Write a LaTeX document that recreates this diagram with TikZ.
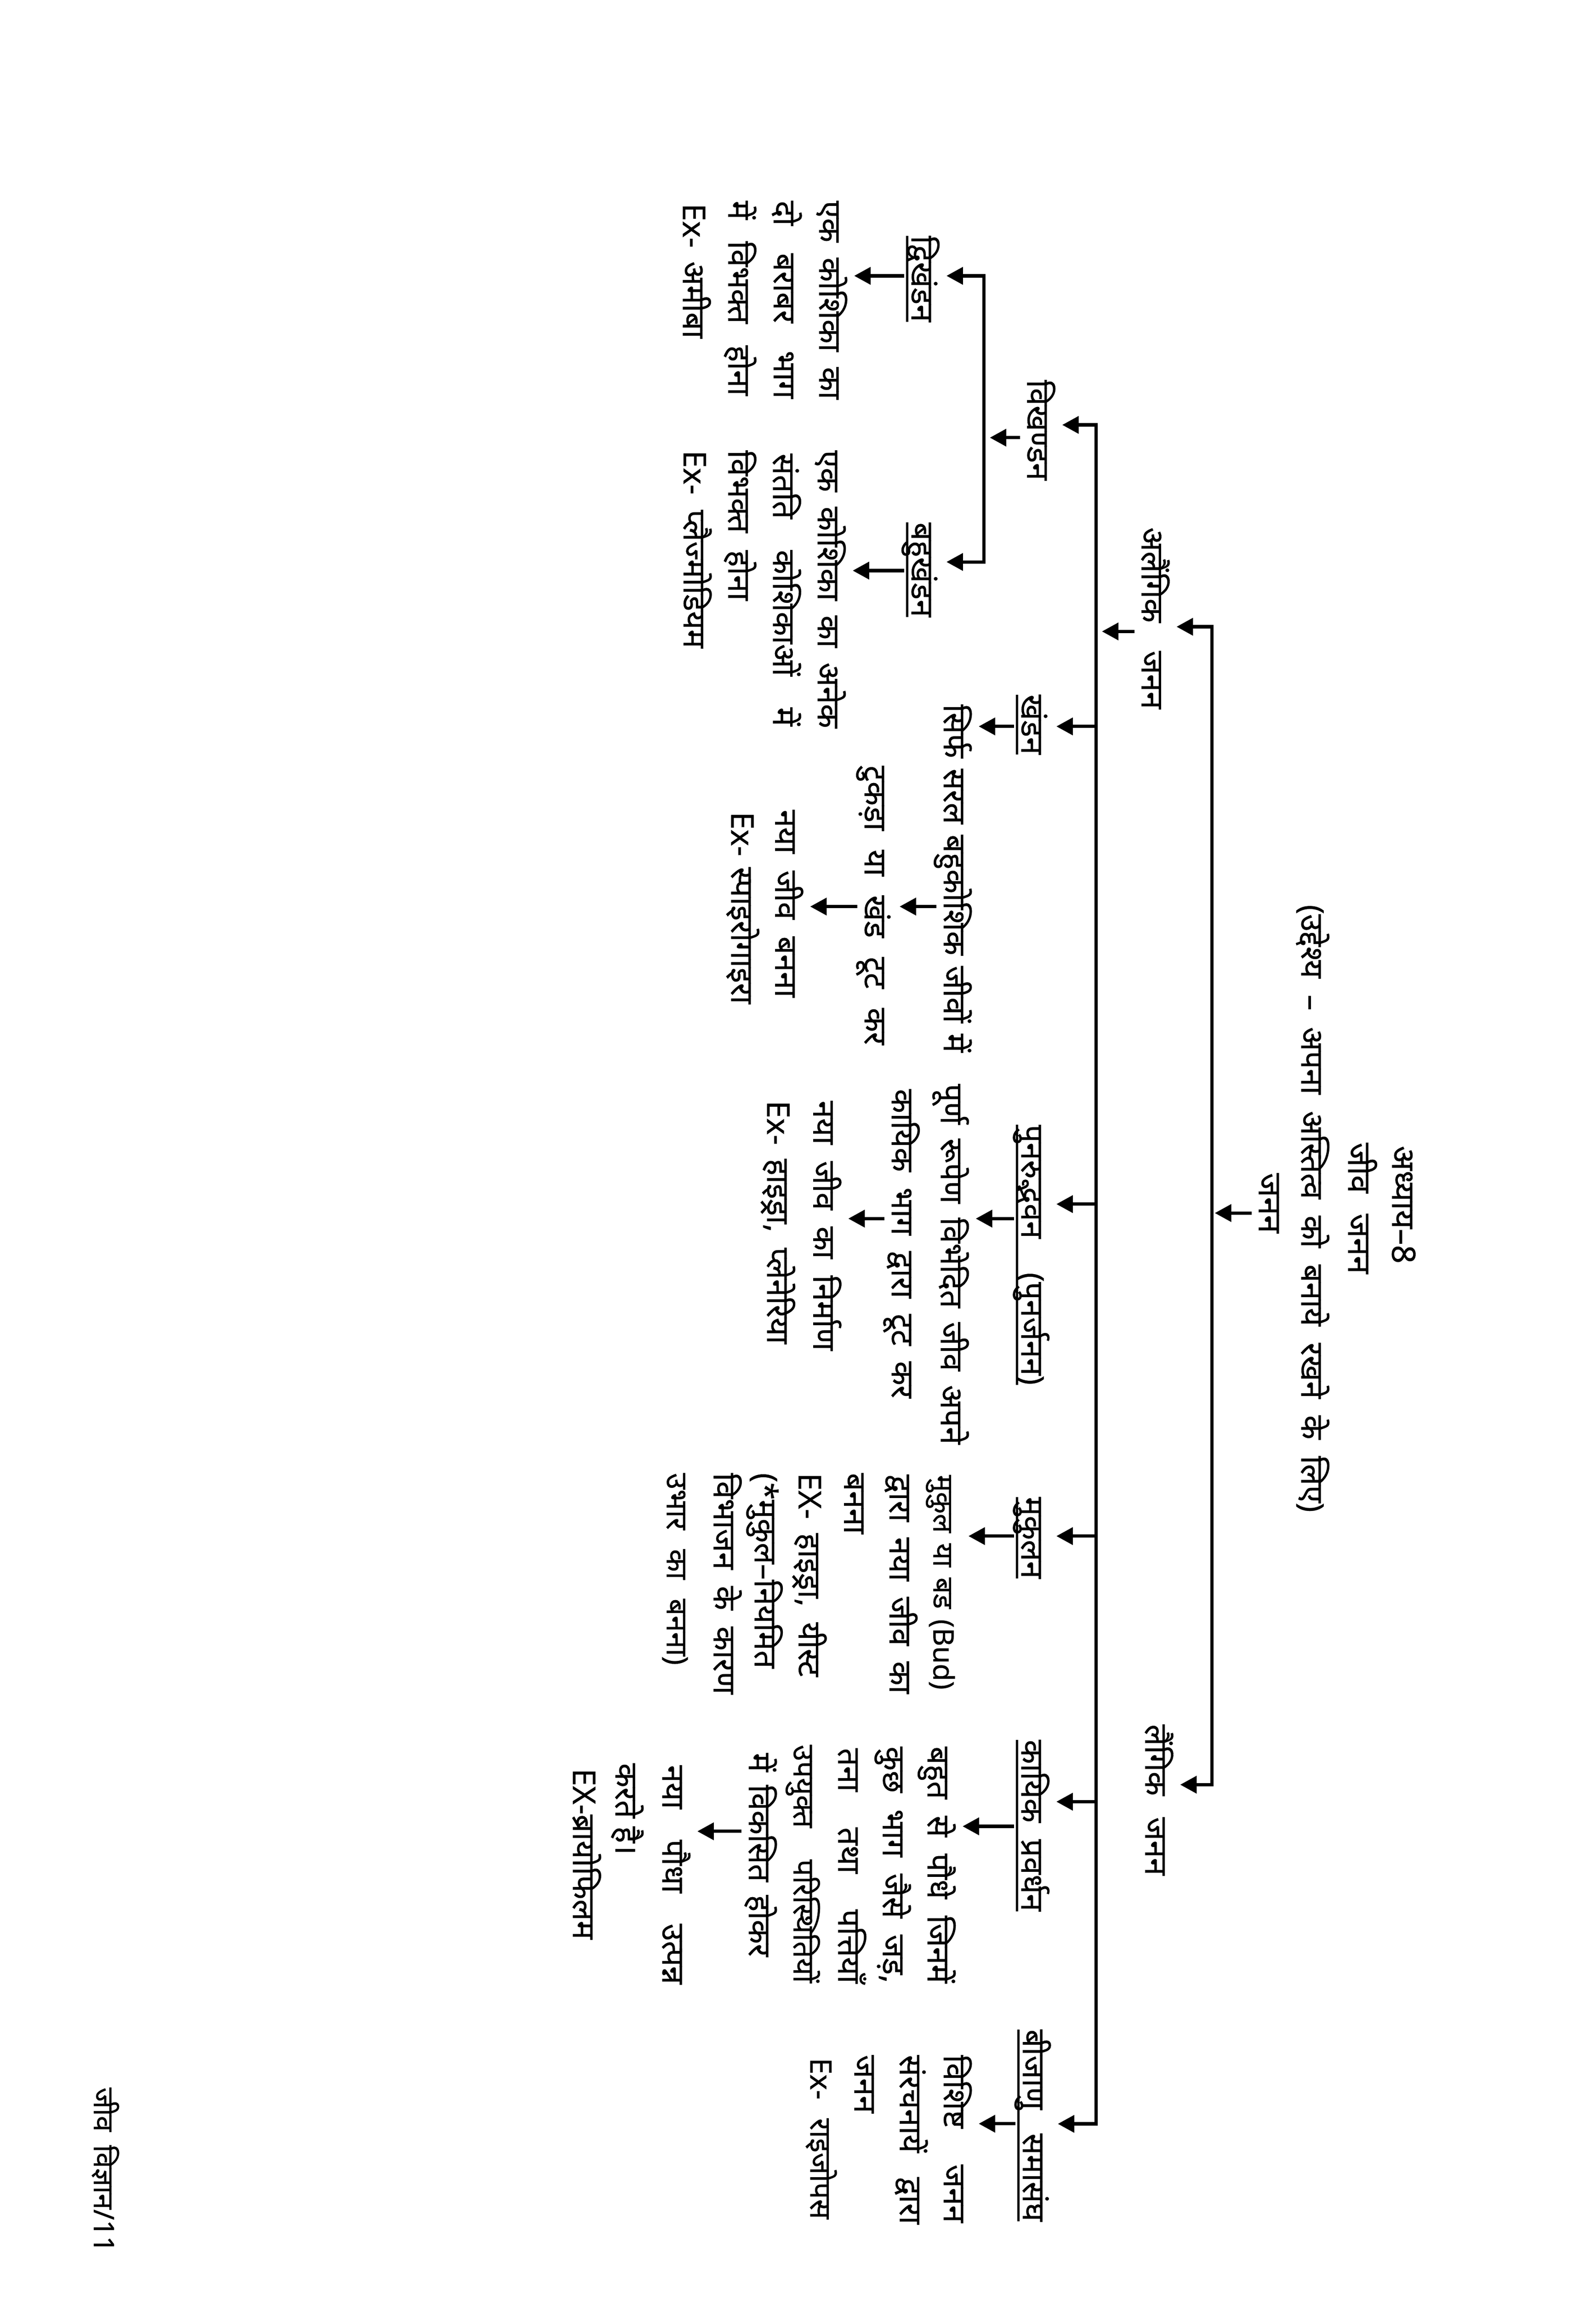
\documentclass[tikz,border=0pt]{standalone}
\usepackage{fontspec}
\setmainfont{Noto Sans}[Script=Devanagari, UprightFeatures={FakeBold=0.5}]
\usetikzlibrary{arrows.meta}
\tikzset{
  txt/.style={rotate=-90, anchor=base west, inner sep=0pt, outer sep=0pt,
    text height=13.6pt, text depth=2.8pt, font=\fontsize{12.2}{15}\selectfont},
  txtsm/.style={txt, font=\fontsize{11.0}{14}\selectfont},
  txtmd/.style={txt, font=\fontsize{11.5}{14}\selectfont},
  ttl/.style={txt, font=\fontsize{12.6}{15}\selectfont\bfseries},
  tline/.style={draw, line width=1.3pt},
  arr/.style={draw, line width=1.3pt, -{Triangle[length=6.4pt,width=6.6pt]}},
  arrs/.style={draw, line width=1.3pt, {Triangle[length=6.4pt,width=6.6pt]}-{Triangle[length=6.4pt,width=6.6pt]}},
  ul/.style={draw, line width=0.8pt}
}
\newcommand\ulnode[1]{\draw[ul] ([xshift=-0.06cm]#1.base west) -- ([xshift=-0.06cm]#1.base east);}
\begin{document}
\begin{tikzpicture}[x=0.02cm,y=-0.02cm]
\fill[white] (0,0) rectangle (1089,1568.5);
\useasboundingbox (0,0) rectangle (1089,1568.5);

% title
\node[ttl] (T1) at (950,781.7) {अध्याय–8};
\node[ttl] (T2) at (920,779.6) {\makebox[1.79cm][s]{जीव जनन}};
\node[txt] (T3) at (888,617.3) {\makebox[8.29cm][s]{(उद्देश्य – अपना अस्तित्व को बनाये रखने के लिए)}};
\node[ttl] (T4) at (859,800.3) {जनन};

% level 1
\node[txt] (A1) at (779,359.8) {\makebox[2.48cm][s]{अलैंगिक जनन}};
\node[txt] (A2) at (781.5,1176.5) {\makebox[2.06cm][s]{लैंगिक जनन}};

% level 2
\node[txt] (B1) at (701,259.2) {विखण्डन};
\node[txt] (B2) at (697,473.9) {खंडन};
\node[txt] (B3) at (697,767.4) {\makebox[3.55cm][s]{पुनरुद्भवन (पुनर्जनन)}};
\node[txt] (B4) at (697,1021.3) {मुकुलन};
\node[txt] (B5) at (697,1187) {\makebox[2.34cm][s]{कायिक प्रवर्धन}};
\node[txt] (B6) at (698,1384.6) {\makebox[2.62cm][s]{बीजाणु समासंघ}};

% level 3
\node[txt] (C1) at (622,160.9) {द्विखंडन};
\node[txt] (C2) at (622,356.5) {बहुखंडन};

% descriptions
\node[txt] (D1a) at (559,137) {\makebox[2.71cm][s]{एक कोशिका का}};
\node[txt] (D1b) at (528,137) {\makebox[2.70cm][s]{दो बराबर भाग}};
\node[txt] (D1c) at (497,137) {\makebox[2.66cm][s]{में विभक्त होना}};
\node[txt] (D1d) at (466,138.9) {\makebox[1.84cm][s]{Ex- अमीबा}};

\node[txt] (D2a) at (558,307.3) {\makebox[3.79cm][s]{एक कोशिका का अनेक}};
\node[txt] (D2b) at (527.5,309.5) {\makebox[3.72cm][s]{संतति कोशिकाओं में}};
\node[txt] (D2c) at (497,307.3) {\makebox[2.05cm][s]{विभक्त होना}};
\node[txt] (D2d) at (466.5,307.3) {\makebox[2.70cm][s]{Ex- प्लैज्मोडियम}};

\node[txt] (E1) at (644,480.6) {\makebox[4.75cm][s]{सिर्फ सरल बहुकोशिक जीवों में}};
\node[txt] (E2) at (590,522.4) {\makebox[3.81cm][s]{टुकड़ा या खंड टूट कर}};
\node[txt] (E3) at (529,552.5) {\makebox[2.56cm][s]{नया जीव बनना}};
\node[txt] (E4) at (499,554) {\makebox[2.62cm][s]{Ex- स्पाइरोगाइरा}};

\node[txt] (F1) at (642,739.5) {\makebox[4.92cm][s]{पूर्ण रूपेण विभेदित जीव अपने}};
\node[txt] (F2) at (608.5,743) {\makebox[4.22cm][s]{कायिक भाग द्वारा टूट कर}};
\node[txt] (F3) at (555,751) {\makebox[3.41cm][s]{नया जीव का निर्माण}};
\node[txt] (F4) at (523.5,751) {\makebox[3.32cm][s]{Ex- हाइड्रा, प्लेनेरिया}};

\node[txtsm] (G1) at (637,1006.3) {\makebox[2.93cm][s]{मुकुल या बड (Bud)}};
\node[txt] (G2) at (607,1006) {\makebox[2.99cm][s]{द्वारा नया जीव का}};
\node[txt] (G3) at (576,1005) {बनना};
\node[txt] (G4) at (545,1005) {\makebox[2.78cm][s]{EX- हाइड्रा, यीस्ट}};
\node[txt] (G5) at (515,1005) {(*मुकुल–नियमित};
\node[txt] (G6) at (487,1005) {\makebox[3.02cm][s]{विभाजन के कारण}};
\node[txtmd] (G7) at (455,1005) {\makebox[2.62cm][s]{उभार का बनना)}};

\node[txt] (H1) at (633,1191.6) {\makebox[3.23cm][s]{बहुत से पौधे जिनमें}};
\node[txt] (H2) at (602.5,1191.6) {\makebox[3.23cm][s]{कुछ भाग जैसे जड़,}};
\node[txt] (H3) at (572,1192.7) {\makebox[3.21cm][s]{तना तथा पत्तियाँ}};
\node[txtmd] (H4) at (541.5,1190.4) {\makebox[3.25cm][s]{उपयुक्त परिस्थितियों}};
\node[txt] (H5) at (511,1196) {\makebox[2.78cm][s]{में विकसित होकर}};
\node[txt] (H6) at (452,1204.3) {\makebox[2.99cm][s]{नया पौधा उत्पन्न}};
\node[txt] (H7) at (420,1203) {करते है।};
\node[txt] (H8) at (391,1206.6) {EX-ब्रायोफिलम};

\node[txt] (I1) at (644,1402) {\makebox[2.29cm][s]{विशिष्ट जनन}};
\node[txt] (I2) at (614,1402) {\makebox[2.31cm][s]{संरचनायें द्वारा}};
\node[txt] (I3) at (583,1402) {जनन};
\node[txtmd] (I4) at (553,1404) {\makebox[2.20cm][s]{Ex- राइजोपस}};

\node[txtsm] (FT) at (64,1424.2) {\makebox[2.25cm][s]{जीव विज्ञान/11}};

% underlines
\ulnode{B2}\ulnode{B3}\ulnode{B4}\ulnode{B5}\ulnode{B6}\ulnode{C1}\ulnode{C2}

% branch coordinates
\coordinate (L1a) at (827,427.6);
\coordinate (L1b) at (827,1217.6);
\coordinate (L1m) at (829,827.6);
\coordinate (L2in) at (752,430.8);
\coordinate (L2a) at (748,289.9);
\coordinate (L2b) at (748,1449);
\coordinate (L2c) at (748,495.6);
\coordinate (L2d) at (748,821.5);
\coordinate (L2e) at (748,1048);
\coordinate (L2f) at (748,1229.2);
\coordinate (L3in) at (675.5,298.6);
\coordinate (L3a) at (671.5,188.2);
\coordinate (L3b) at (671.5,383.4);

% connectors
\draw[arr] (T4.south |- L1m) -- (L1m);
\draw[arrs] (A1.north |- L1a) -- (L1a) -- (L1b) -- (A2.north |- L1b);
\draw[arr] (A1.south |- L2in) -- (L2in);
\draw[arrs] (B1.north |- L2a) -- (L2a) -- (L2b) -- (B6.north |- L2b);
\draw[arr] (L2c) -- (B2.north |- L2c);
\draw[arr] (L2d) -- (B3.north |- L2d);
\draw[arr] (L2e) -- (B4.north |- L2e);
\draw[arr] (L2f) -- (B5.north |- L2f);
\draw[arr] (B1.south |- L3in) -- (L3in);
\draw[arrs] (C1.north |- L3a) -- (L3a) -- (L3b) -- (C2.north |- L3b);
\draw[arr] (C1.south |- 0,188.2) -- (D1a.north |- 0,188.2);
\draw[arr] (C2.south |- 0,389.3) -- (D2a.north |- 0,389.3);
\draw[arr] (B2.south |- 0,495.6) -- (E1.north |- 0,495.6);
\draw[arr] (E1.south |- 0,618.5) -- (E2.north |- 0,618.5);
\draw[arr] (E2.south |- 0,618.5) -- (E3.north |- 0,618.5);
\draw[arr] (B3.south |- 0,831.4) -- (F1.north |- 0,831.4);
\draw[arr] (F2.south |- 0,831.4) -- (F3.north |- 0,831.4);
\draw[arr] (B4.south |- 0,1048) -- (G1.north |- 0,1048);
\draw[arr] (B5.south |- 0,1246) -- (H1.north |- 0,1246);
\draw[arr] (H5.south |- 0,1249.4) -- (H6.north |- 0,1249.4);
\draw[arr] (B6.south |- 0,1448.9) -- (I1.north |- 0,1448.9);
\end{tikzpicture}
\end{document}
